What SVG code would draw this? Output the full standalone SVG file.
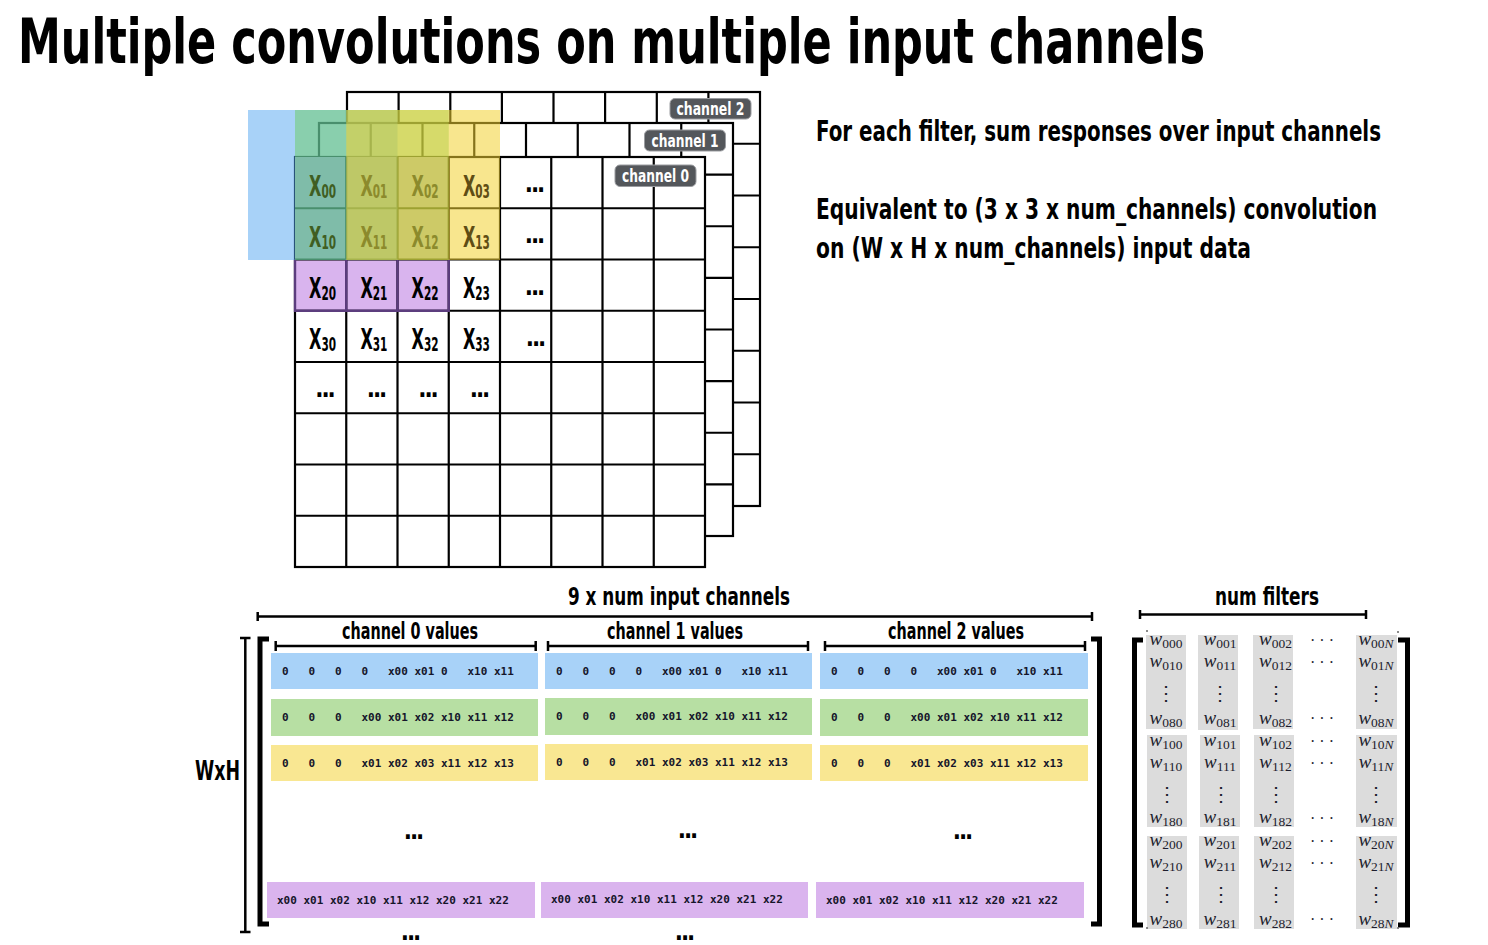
<svg xmlns="http://www.w3.org/2000/svg" width="1488" height="945" viewBox="0 0 1488 945">
<style>
.b{font-family:'DejaVu Sans Condensed','Liberation Sans',Arial,sans-serif;font-weight:bold;fill:#000}
.grid{fill:#fff;stroke:#000;stroke-width:2.2}
.gl{fill:none;stroke:#000;stroke-width:2.2}
.lblr{fill:#54575b;stroke:#9a9ca0;stroke-width:1}
.lblt{font-size:17px;fill:#fff}
.cx{font-size:29px}
.sub{font-size:19px}
.dots{font-size:24px;letter-spacing:-2px}
.mono{font-family:'DejaVu Sans Mono','Liberation Mono',monospace;font-weight:bold;font-size:11px;fill:#15152a;white-space:pre}
.br{fill:none;stroke:#000;stroke-width:2.5}
.thick{fill:none;stroke:#000;stroke-width:5}
.rb{fill:#a8d2f8}.rg{fill:#b7dfa3}.ry{fill:#f9e792}.rp{fill:#dab4ee}
.gray{fill:#dcdcdc}
.w{font-family:'Liberation Serif','DejaVu Serif',serif;font-style:italic;font-size:19px;fill:#1d1d2d}
.ws{font-style:normal;font-size:13.5px}
.vd{font-family:'DejaVu Serif',serif;font-size:20px;fill:#1d1d2d}
.cd{font-family:'Liberation Serif','DejaVu Serif',serif;font-size:16px;fill:#1d1d2d}
</style>

<g id="title">
<text class="b" transform="translate(18,63) scale(0.76,1)" font-size="63" textLength="1562" lengthAdjust="spacingAndGlyphs">Multiple convolutions on multiple input channels</text>
</g>

<g id="description">
<text class="b" transform="translate(816,141) scale(0.76,1)" font-size="29" textLength="743.4" lengthAdjust="spacingAndGlyphs">For each filter, sum responses over input channels</text>
<text class="b" transform="translate(816,219) scale(0.76,1)" font-size="29" textLength="738.2" lengthAdjust="spacingAndGlyphs">Equivalent to (3 x 3 x num_channels) convolution</text>
<text class="b" transform="translate(816,258) scale(0.76,1)" font-size="29" textLength="572.4" lengthAdjust="spacingAndGlyphs">on (W x H x num_channels) input data</text>
</g>

<g id="channel2">
<rect class="grid" x="347" y="92" width="413" height="414"/>
<path class="gl" d="M398.6 92V506M450.3 92V506M501.9 92V506M553.5 92V506M605.1 92V506M656.8 92V506M708.4 92V506M347 143.75H760M347 195.5H760M347 247.25H760M347 299H760M347 350.75H760M347 402.5H760M347 454.25H760"/>
<rect class="lblr" x="670" y="98.5" width="81" height="20.5" rx="5"/>
<text class="b lblt" transform="translate(710.5,115) scale(0.81,1)" text-anchor="middle" textLength="84" lengthAdjust="spacingAndGlyphs">channel 2</text>
</g>

<g id="channel1">
<rect class="grid" x="319" y="123" width="414" height="413"/>
<path class="gl" d="M370.75 123V536M422.5 123V536M474.25 123V536M526 123V536M577.75 123V536M629.5 123V536M681.25 123V536M319 174.6H733M319 226.25H733M319 277.9H733M319 329.5H733M319 381.1H733M319 432.75H733M319 484.4H733"/>
<rect class="lblr" x="644.5" y="130" width="81" height="21" rx="5"/>
<text class="b lblt" transform="translate(685,146.5) scale(0.81,1)" text-anchor="middle" textLength="82.7" lengthAdjust="spacingAndGlyphs">channel 1</text>
</g>

<g id="channel0">
<rect class="grid" x="295" y="157" width="410" height="410"/>
<rect x="295" y="157" width="153.75" height="153.75" fill="#d9b4ee"/>
<path class="gl" d="M346.25 157V567M397.5 157V567M448.75 157V567M500 157V567M551.25 157V567M602.5 157V567M653.75 157V567M295 208.25H705M295 259.5H705M295 310.75H705M295 362H705M295 413.25H705M295 464.5H705M295 515.75H705"/>
<path d="M295 259.5V310.75H448.75V259.5M346.25 259.5V310.75M397.5 259.5V310.75" fill="none" stroke="#5c3d7e" stroke-width="2.4"/>
<g class="b cx" text-anchor="middle">
<text transform="translate(322.6,298) scale(0.65,1)" textLength="41.5" lengthAdjust="spacingAndGlyphs">X<tspan class="sub" dy="2">20</tspan></text>
<text transform="translate(373.9,298) scale(0.65,1)" textLength="41.5" lengthAdjust="spacingAndGlyphs">X<tspan class="sub" dy="2">21</tspan></text>
<text transform="translate(425.1,298) scale(0.65,1)" textLength="41.5" lengthAdjust="spacingAndGlyphs">X<tspan class="sub" dy="2">22</tspan></text>
<text transform="translate(476.4,298) scale(0.65,1)" textLength="41.5" lengthAdjust="spacingAndGlyphs">X<tspan class="sub" dy="2">23</tspan></text>
<text transform="translate(322.6,349.25) scale(0.65,1)" textLength="41.5" lengthAdjust="spacingAndGlyphs">X<tspan class="sub" dy="2">30</tspan></text>
<text transform="translate(373.9,349.25) scale(0.65,1)" textLength="41.5" lengthAdjust="spacingAndGlyphs">X<tspan class="sub" dy="2">31</tspan></text>
<text transform="translate(425.1,349.25) scale(0.65,1)" textLength="41.5" lengthAdjust="spacingAndGlyphs">X<tspan class="sub" dy="2">32</tspan></text>
<text transform="translate(476.4,349.25) scale(0.65,1)" textLength="41.5" lengthAdjust="spacingAndGlyphs">X<tspan class="sub" dy="2">33</tspan></text>
</g>
<g class="b dots" text-anchor="middle">
<text x="534" y="192">...</text>
<text x="534" y="243.25">...</text>
<text x="534" y="294.5">...</text>
<text x="535" y="345.75">...</text>
<text x="324.5" y="397">...</text>
<text x="376" y="397">...</text>
<text x="427.5" y="397">...</text>
<text x="479" y="397">...</text>
</g>
<rect class="lblr" x="615" y="165" width="81" height="21.5" rx="5"/>
<text class="b lblt" transform="translate(655.5,181.5) scale(0.81,1)" text-anchor="middle" textLength="82.7" lengthAdjust="spacingAndGlyphs">channel 0</text>
</g>

<g id="filter-windows">
<rect x="248" y="110" width="149.5" height="150" fill="#51a5f1" fill-opacity="0.5"/>
<rect x="295" y="110" width="153.75" height="150" fill="#6acc62" fill-opacity="0.5"/>
<rect x="346.25" y="110" width="153.75" height="150" fill="#f2d131" fill-opacity="0.55"/>
<g class="b cx" text-anchor="middle">
<text transform="translate(322.6,195.5) scale(0.65,1)" textLength="41.5" lengthAdjust="spacingAndGlyphs" fill="#3f5e22">X<tspan class="sub" dy="2">00</tspan></text>
<text transform="translate(373.9,195.5) scale(0.65,1)" textLength="41.5" lengthAdjust="spacingAndGlyphs" fill="#8c8a2c">X<tspan class="sub" dy="2">01</tspan></text>
<text transform="translate(425.1,195.5) scale(0.65,1)" textLength="41.5" lengthAdjust="spacingAndGlyphs" fill="#8c8a2c">X<tspan class="sub" dy="2">02</tspan></text>
<text transform="translate(476.4,195.5) scale(0.65,1)" textLength="41.5" lengthAdjust="spacingAndGlyphs" fill="#5f4d14">X<tspan class="sub" dy="2">03</tspan></text>
<text transform="translate(322.6,246.75) scale(0.65,1)" textLength="41.5" lengthAdjust="spacingAndGlyphs" fill="#3f5e22">X<tspan class="sub" dy="2">10</tspan></text>
<text transform="translate(373.9,246.75) scale(0.65,1)" textLength="41.5" lengthAdjust="spacingAndGlyphs" fill="#8c8a2c">X<tspan class="sub" dy="2">11</tspan></text>
<text transform="translate(425.1,246.75) scale(0.65,1)" textLength="41.5" lengthAdjust="spacingAndGlyphs" fill="#8c8a2c">X<tspan class="sub" dy="2">12</tspan></text>
<text transform="translate(476.4,246.75) scale(0.65,1)" textLength="41.5" lengthAdjust="spacingAndGlyphs" fill="#5f4d14">X<tspan class="sub" dy="2">13</tspan></text>
</g>
</g>

<g id="connectors">
<path class="br" d="M257.7 616.5H1092M257.7 612V621M1092 612V621"/>
<path class="br" d="M275.7 646H535.7M275.7 641V651M535.7 641V651"/>
<path class="br" d="M548 646H808M548 641V651M808 641V651"/>
<path class="br" d="M825 646H1085M825 641V651M1085 641V651"/>
<path class="br" d="M245.3 638V932M240 638H250.5M240 932H250.5" stroke-width="2"/>
<path class="thick" d="M269 639H260V924H269"/>
<path class="thick" d="M1091 639H1099.5V924H1091"/>
<path class="br" d="M1140 614.5H1366M1140 610V619M1366 610V619"/>
<path class="thick" d="M1143 640H1134.5V925H1143"/>
<path class="thick" d="M1398 640H1407.5V925H1398"/>
</g>

<g id="labels">
<text class="b" transform="translate(679,605) scale(0.78,1)" font-size="24" text-anchor="middle" textLength="284.6" lengthAdjust="spacingAndGlyphs">9 x num input channels</text>
<text class="b" transform="translate(410,639) scale(0.69,1)" font-size="23" text-anchor="middle" textLength="197.1" lengthAdjust="spacingAndGlyphs">channel 0 values</text>
<text class="b" transform="translate(675,639) scale(0.69,1)" font-size="23" text-anchor="middle" textLength="197.1" lengthAdjust="spacingAndGlyphs">channel 1 values</text>
<text class="b" transform="translate(956,639) scale(0.69,1)" font-size="23" text-anchor="middle" textLength="197.1" lengthAdjust="spacingAndGlyphs">channel 2 values</text>
<text class="b" transform="translate(217.5,780) scale(0.76,1)" font-size="26" text-anchor="middle" textLength="59.2" lengthAdjust="spacingAndGlyphs">WxH</text>
<text class="b" transform="translate(1267,605) scale(0.78,1)" font-size="24" text-anchor="middle" textLength="133.3" lengthAdjust="spacingAndGlyphs">num filters</text>
</g>

<g id="im2col-matrix">
<rect class="rb" x="271" y="653" width="267" height="36"/>
<rect class="rb" x="545" y="653" width="267" height="36"/>
<rect class="rb" x="820" y="653" width="268" height="36"/>
<rect class="rg" x="271" y="699" width="267" height="37"/>
<rect class="rg" x="545" y="698" width="267" height="37"/>
<rect class="rg" x="820" y="699" width="268" height="37"/>
<rect class="ry" x="271" y="745" width="267" height="36"/>
<rect class="ry" x="545" y="744" width="267" height="36"/>
<rect class="ry" x="820" y="745" width="268" height="36"/>
<rect class="rp" x="267" y="882" width="268" height="36"/>
<rect class="rp" x="541" y="882" width="267" height="36"/>
<rect class="rp" x="816" y="882" width="268" height="36"/>
<text class="mono" xml:space="preserve" x="282" y="675">0   0   0   0   x00 x01 0   x10 x11</text>
<text class="mono" xml:space="preserve" x="556" y="675">0   0   0   0   x00 x01 0   x10 x11</text>
<text class="mono" xml:space="preserve" x="831" y="675">0   0   0   0   x00 x01 0   x10 x11</text>
<text class="mono" xml:space="preserve" x="282" y="721">0   0   0   x00 x01 x02 x10 x11 x12</text>
<text class="mono" xml:space="preserve" x="556" y="720">0   0   0   x00 x01 x02 x10 x11 x12</text>
<text class="mono" xml:space="preserve" x="831" y="721">0   0   0   x00 x01 x02 x10 x11 x12</text>
<text class="mono" xml:space="preserve" x="282" y="767">0   0   0   x01 x02 x03 x11 x12 x13</text>
<text class="mono" xml:space="preserve" x="556" y="766">0   0   0   x01 x02 x03 x11 x12 x13</text>
<text class="mono" xml:space="preserve" x="831" y="767">0   0   0   x01 x02 x03 x11 x12 x13</text>
<text class="mono" xml:space="preserve" x="277" y="904">x00 x01 x02 x10 x11 x12 x20 x21 x22</text>
<text class="mono" xml:space="preserve" x="551" y="903">x00 x01 x02 x10 x11 x12 x20 x21 x22</text>
<text class="mono" xml:space="preserve" x="826" y="904">x00 x01 x02 x10 x11 x12 x20 x21 x22</text>
<g class="b dots" font-size="22" text-anchor="middle">
<text x="413" y="839">...</text>
<text x="687" y="838">...</text>
<text x="962" y="839">...</text>
</g>
<g class="b dots" font-size="19" text-anchor="middle">
<text x="410" y="940">...</text>
<text x="684" y="939.5">...</text>
</g>
</g>

<g id="weights-matrix">
<rect class="gray" x="1146" y="635" width="40" height="94"/>
<rect class="gray" x="1198" y="635" width="40" height="95"/>
<rect class="gray" x="1253" y="635" width="40" height="94"/>
<rect class="gray" x="1356" y="635" width="41" height="94"/>
<rect class="gray" x="1147" y="735" width="40" height="92"/>
<rect class="gray" x="1200" y="735" width="40" height="92"/>
<rect class="gray" x="1254" y="735" width="40" height="92"/>
<rect class="gray" x="1356" y="735" width="41" height="92"/>
<rect class="gray" x="1147" y="836" width="40" height="93"/>
<rect class="gray" x="1199" y="836" width="40" height="93"/>
<rect class="gray" x="1254" y="836" width="40" height="93"/>
<rect class="gray" x="1356" y="836" width="41" height="93"/>
<circle cx="1147" cy="631" r="1" fill="#666"/>
<circle cx="1398" cy="632" r="1" fill="#666"/>
<circle cx="1147" cy="928" r="1" fill="#666"/>
<circle cx="1398" cy="928" r="1" fill="#666"/>
<g class="w" text-anchor="middle">
<text x="1166" y="645">w<tspan class="ws" dy="3">000</tspan></text>
<text x="1220" y="645">w<tspan class="ws" dy="3">001</tspan></text>
<text x="1275.5" y="645">w<tspan class="ws" dy="3">002</tspan></text>
<text x="1376" y="645">w<tspan class="ws" dy="3">00<tspan font-style="italic">N</tspan></tspan></text>
<text x="1166" y="667">w<tspan class="ws" dy="3">010</tspan></text>
<text x="1220" y="667">w<tspan class="ws" dy="3">011</tspan></text>
<text x="1275.5" y="667">w<tspan class="ws" dy="3">012</tspan></text>
<text x="1376" y="667">w<tspan class="ws" dy="3">01<tspan font-style="italic">N</tspan></tspan></text>
<text x="1166" y="724">w<tspan class="ws" dy="3">080</tspan></text>
<text x="1220" y="724">w<tspan class="ws" dy="3">081</tspan></text>
<text x="1275.5" y="724">w<tspan class="ws" dy="3">082</tspan></text>
<text x="1376" y="724">w<tspan class="ws" dy="3">08<tspan font-style="italic">N</tspan></tspan></text>
<text x="1166" y="746">w<tspan class="ws" dy="3">100</tspan></text>
<text x="1220" y="746">w<tspan class="ws" dy="3">101</tspan></text>
<text x="1275.5" y="746">w<tspan class="ws" dy="3">102</tspan></text>
<text x="1376" y="746">w<tspan class="ws" dy="3">10<tspan font-style="italic">N</tspan></tspan></text>
<text x="1166" y="768">w<tspan class="ws" dy="3">110</tspan></text>
<text x="1220" y="768">w<tspan class="ws" dy="3">111</tspan></text>
<text x="1275.5" y="768">w<tspan class="ws" dy="3">112</tspan></text>
<text x="1376" y="768">w<tspan class="ws" dy="3">11<tspan font-style="italic">N</tspan></tspan></text>
<text x="1166" y="823">w<tspan class="ws" dy="3">180</tspan></text>
<text x="1220" y="823">w<tspan class="ws" dy="3">181</tspan></text>
<text x="1275.5" y="823">w<tspan class="ws" dy="3">182</tspan></text>
<text x="1376" y="823">w<tspan class="ws" dy="3">18<tspan font-style="italic">N</tspan></tspan></text>
<text x="1166" y="846">w<tspan class="ws" dy="3">200</tspan></text>
<text x="1220" y="846">w<tspan class="ws" dy="3">201</tspan></text>
<text x="1275.5" y="846">w<tspan class="ws" dy="3">202</tspan></text>
<text x="1376" y="846">w<tspan class="ws" dy="3">20<tspan font-style="italic">N</tspan></tspan></text>
<text x="1166" y="868">w<tspan class="ws" dy="3">210</tspan></text>
<text x="1220" y="868">w<tspan class="ws" dy="3">211</tspan></text>
<text x="1275.5" y="868">w<tspan class="ws" dy="3">212</tspan></text>
<text x="1376" y="868">w<tspan class="ws" dy="3">21<tspan font-style="italic">N</tspan></tspan></text>
<text x="1166" y="925">w<tspan class="ws" dy="3">280</tspan></text>
<text x="1220" y="925">w<tspan class="ws" dy="3">281</tspan></text>
<text x="1275.5" y="925">w<tspan class="ws" dy="3">282</tspan></text>
<text x="1376" y="925">w<tspan class="ws" dy="3">28<tspan font-style="italic">N</tspan></tspan></text>
</g>
<g class="vd" text-anchor="middle">
<text x="1166" y="700">⋮</text><text x="1220" y="700">⋮</text><text x="1275.5" y="700">⋮</text><text x="1376" y="700">⋮</text>
<text x="1167" y="801">⋮</text><text x="1221" y="801">⋮</text><text x="1275.5" y="801">⋮</text><text x="1376" y="801">⋮</text>
<text x="1167" y="901">⋮</text><text x="1221" y="901">⋮</text><text x="1275.5" y="901">⋮</text><text x="1376" y="901">⋮</text>
</g>
<g class="cd" text-anchor="middle" xml:space="preserve">
<text x="1322" y="646">· · ·</text>
<text x="1322" y="668">· · ·</text>
<text x="1322" y="724">· · ·</text>
<text x="1322" y="747">· · ·</text>
<text x="1322" y="769">· · ·</text>
<text x="1322" y="824">· · ·</text>
<text x="1322" y="847">· · ·</text>
<text x="1322" y="869">· · ·</text>
<text x="1322" y="925">· · ·</text>
</g>
</g>
</svg>
